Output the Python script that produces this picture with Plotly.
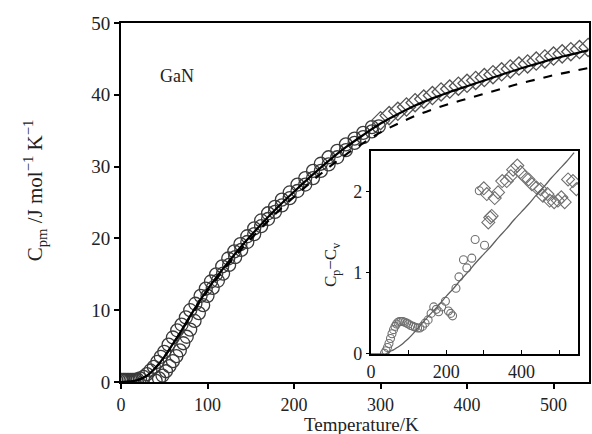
import plotly.graph_objects as go

# ---- main panel: model curve (solid) ----
T_line = [0, 10, 20, 30, 40, 50, 60, 70, 80, 90, 100, 120, 140, 160, 180, 200, 220, 240,
          260, 280, 300, 320, 340, 360, 380, 400, 420, 440, 460, 480, 500, 520, 540]
Cp_line = [0, 0.05, 0.3, 0.9, 2.0, 3.5, 5.3, 7.2, 9.2, 11.1, 12.9, 16.1, 19.0, 21.7, 24.2, 26.5,
           28.7, 30.8, 32.7, 34.4, 36.0, 37.3, 38.5, 39.5, 40.4, 41.2, 42.0, 42.8, 43.6, 44.3,
           45.0, 45.6, 46.2]
# Cp - Cv model (inset straight line), same temperatures
diff_line = [0, 0, 0, 0, 0, 0.03, 0.05, 0.08, 0.11, 0.15, 0.19, 0.29, 0.40, 0.50, 0.60, 0.71,
             0.81, 0.92, 1.02, 1.13, 1.23, 1.33, 1.44, 1.54, 1.65, 1.75, 1.85, 1.96, 2.06, 2.17,
             2.27, 2.37, 2.48]
Cv_line = [c - d for c, d in zip(Cp_line, diff_line)]

# ---- main panel: measured data (two circle runs + diamonds) ----
low_T = [1, 3, 5, 7, 9, 11, 13, 15, 17, 19]
low_Cp = [0.3, 0.3, 0.3, 0.3, 0.3, 0.3, 0.3, 0.3, 0.3, 0.35]
circA_T = [22, 26, 30, 34, 38, 42, 46, 50, 55, 60, 65, 70, 75, 80, 86, 92, 98, 104, 110, 117,
           124, 131, 138, 146, 154, 162, 170, 178, 186, 195, 204, 213, 222, 231, 240, 250,
           260, 270, 280, 290]
circA_Cp = [0.5, 0.7, 1.1, 1.6, 2.1, 2.8, 3.5, 4.2, 5.2, 6.2, 7.2, 8.0, 9.0, 10.0, 10.9, 12.0,
            13.0, 14.0, 15.0, 16.1, 17.2, 18.2, 19.2, 20.3, 21.4, 22.5, 23.5, 24.4, 25.4,
            26.4, 27.5, 28.4, 29.4, 30.4, 31.3, 32.2, 33.1, 33.9, 34.7, 35.5]
circB_T = [40, 44, 48, 52, 56, 60, 64, 68, 72, 76, 80, 85, 90, 95, 100, 106, 112, 118, 125,
           132, 139, 146, 154, 162, 170, 178, 186, 195, 204, 213, 222, 231, 240, 250, 260,
           270, 280, 290, 298]
circB_Cp = [0.2, 0.5, 0.9, 1.5, 2.2, 2.9, 3.6, 4.4, 5.4, 6.3, 7.3, 8.5, 9.6, 10.7, 12.0, 13.1,
            14.1, 15.1, 16.3, 17.4, 18.4, 19.5, 20.6, 21.7, 22.7, 23.7, 24.6, 25.6, 26.6,
            27.5, 28.4, 29.4, 30.3, 31.3, 32.3, 33.3, 34.1, 34.9, 35.6]
diam_T = [300, 310, 320, 330, 340, 350, 360, 370, 380, 390, 400, 410, 420, 430, 440, 450,
          460, 470, 480, 490, 500, 510, 520, 530, 540]
diam_Cp = [36.4, 37.1, 37.7, 38.3, 38.9, 39.4, 39.9, 40.4, 40.8, 41.2, 41.6, 42.0, 42.4, 42.8,
           43.2, 43.6, 44.0, 44.3, 44.7, 45.0, 45.4, 45.7, 46.0, 46.3, 46.6]

# ---- inset data (Cp - Cv) ----
in_circ_T = [36, 40, 44, 48, 52, 56, 60, 64, 68, 72, 76, 80, 85, 90, 95, 100, 106, 112, 118,
             124, 130, 137, 144, 152, 160, 167, 174, 180, 188, 198, 206, 212, 217, 226, 234,
             246, 255, 268, 277, 288, 302]
in_circ_v = [0.01, 0.04, 0.08, 0.13, 0.19, 0.25, 0.30, 0.34, 0.37, 0.39, 0.40, 0.40, 0.40,
             0.39, 0.38, 0.37, 0.35, 0.34, 0.33, 0.32, 0.32, 0.34, 0.38, 0.42, 0.50, 0.58,
             0.55, 0.52, 0.58, 0.65, 0.53, 0.50, 0.47, 0.81, 0.95, 1.16, 1.06, 1.18, 1.41,
             2.01, 1.34]
in_diam_T = [300, 308, 312, 317, 321, 329, 338, 349, 361, 372, 378, 389, 398, 409, 419, 428,
             440, 451, 457, 469, 475, 487, 497, 506, 515, 524, 537, 546]
in_diam_v = [2.04, 1.97, 1.62, 1.68, 1.70, 1.92, 1.99, 2.13, 2.13, 2.19, 2.27, 2.32, 2.24,
             2.18, 2.15, 2.09, 2.05, 2.03, 1.95, 1.97, 1.89, 1.87, 1.89, 1.93, 1.87, 2.15,
             2.13, 2.03]

main_xticks = [0, 100, 200, 300, 400, 500]
main_yticks = [0, 10, 20, 30, 40, 50]
inset_xticks = [0, 100, 200, 300, 400, 500]
inset_xtext = ["0", "", "200", "", "400", ""]
inset_yticks = [0, 1, 2]

FONT = "Liberation Serif"
fig = go.Figure()

circ_marker = dict(symbol="circle-open", size=13, color="#3a3a3a",
                   line=dict(width=1.3, color="#3a3a3a"))
for xs, ys in [(low_T, low_Cp), (circA_T, circA_Cp), (circB_T, circB_Cp)]:
    fig.add_trace(go.Scatter(x=xs, y=ys, mode="markers", xaxis="x", yaxis="y",
                             marker=circ_marker, showlegend=False))
fig.add_trace(go.Scatter(x=diam_T, y=diam_Cp, mode="markers", xaxis="x", yaxis="y",
                         marker=dict(symbol="diamond-open", size=14, color="#555555",
                                     line=dict(width=1.3, color="#555555")),
                         showlegend=False))
fig.add_trace(go.Scatter(x=T_line, y=Cp_line, mode="lines", xaxis="x", yaxis="y",
                         line=dict(color="black", width=2.2, shape="spline"),
                         showlegend=False))
fig.add_trace(go.Scatter(x=T_line, y=Cv_line, mode="lines", xaxis="x", yaxis="y",
                         line=dict(color="black", width=2.2, dash="dash", shape="spline"),
                         showlegend=False))

# inset
fig.add_trace(go.Scatter(x=in_circ_T, y=in_circ_v, mode="markers", xaxis="x2", yaxis="y2",
                         marker=dict(symbol="circle-open", size=8, color="#707070",
                                     line=dict(width=1.1, color="#707070")),
                         showlegend=False))
fig.add_trace(go.Scatter(x=in_diam_T, y=in_diam_v, mode="markers", xaxis="x2", yaxis="y2",
                         marker=dict(symbol="diamond-open", size=10, color="#707070",
                                     line=dict(width=1.1, color="#707070")),
                         showlegend=False))
fig.add_trace(go.Scatter(x=T_line, y=diff_line, mode="lines", xaxis="x2", yaxis="y2",
                         line=dict(color="#606060", width=1.3, shape="spline"),
                         showlegend=False))

axis_common = dict(showgrid=False, zeroline=False, showline=True, linecolor="black",
                   mirror=True, tickcolor="black", tickfont=dict(family=FONT, size=18, color="#222"))

fig.update_layout(
    width=592, height=434,
    margin=dict(l=121, r=1, t=23, b=52),
    paper_bgcolor="white", plot_bgcolor="white",
    xaxis=dict(domain=[0, 1], range=[0, 541], tickvals=main_xticks, ticks="outside",
               ticklen=5, tickwidth=1.5, linewidth=2, anchor="y", **axis_common),
    yaxis=dict(domain=[0, 1], range=[0, 50], tickvals=main_yticks, ticks="outside",
               ticklen=5, tickwidth=1.5, linewidth=2, anchor="x",
               **{**axis_common, "tickfont": dict(family=FONT, size=19, color="#222")}),
    xaxis2=dict(domain=[0.534, 0.977], range=[0, 551], tickvals=inset_xticks,
                ticktext=inset_xtext, ticks="inside", ticklen=4, tickwidth=1.2,
                linewidth=2, anchor="y2",
                **{**axis_common, "tickfont": dict(family=FONT, size=18, color="#222")}),
    yaxis2=dict(domain=[0.078, 0.6435], range=[0, 2.5], tickvals=inset_yticks,
                ticks="outside", ticklen=3, tickwidth=1.2, linewidth=2, anchor="x2",
                **{**axis_common, "tickfont": dict(family=FONT, size=18, color="#222")}),
    annotations=[
        dict(text="GaN", x=0.119, y=0.852, xref="paper", yref="paper", showarrow=False,
             font=dict(family=FONT, size=18, color="#222"), xanchor="center", yanchor="middle"),
        dict(text="Temperature/K", x=0.513, y=-0.117, xref="paper", yref="paper",
             showarrow=False, font=dict(family=FONT, size=19, color="#222"),
             xanchor="center", yanchor="middle"),
        dict(text="C<sub>pm</sub> /J mol<sup>−1</sup> K<sup>−1</sup>", x=-0.183, y=0.535,
             xref="paper", yref="paper", showarrow=False, textangle=-90,
             font=dict(family=FONT, size=21, color="#222"), xanchor="center", yanchor="middle"),
        dict(text="C<sub>p</sub>−C<sub>v</sub>", x=0.451, y=0.326, xref="paper", yref="paper",
             showarrow=False, textangle=-90, font=dict(family=FONT, size=17, color="#222"),
             xanchor="center", yanchor="middle"),
    ],
)

fig.write_html("out.html", config={"displayModeBar": False},
               post_script="document.body.style.margin='0px';document.body.style.overflow='hidden';")
